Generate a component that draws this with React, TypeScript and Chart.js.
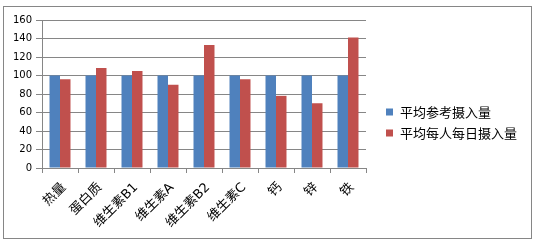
import { useEffect, useRef } from "react";
import { Chart, registerables } from "chart.js";

Chart.register(...registerables);

const categories = ["热量", "蛋白质", "维生素B1", "维生素A", "维生素B2", "维生素C", "钙", "锌", "铁"];
const referenceValues = [100, 100, 100, 100, 100, 100, 100, 100, 100];
const actualValues = [96, 108, 105, 90, 133, 96, 78, 70, 141];
const seriesLabels = ["平均参考摄入量", "平均每人每日摄入量"];
const seriesColors = ["#4F81BD", "#C0504D"];
const yMin = 0;
const yMax = 160;
const yStep = 20;

const GRID = "#868686";

const framePlugin = {
  id: "frame",
  beforeDraw(chart: any) {
    const ctx = chart.ctx;
    ctx.save();
    ctx.fillStyle = "#ffffff";
    ctx.fillRect(0, 0, chart.width, chart.height);
    ctx.strokeStyle = GRID;
    ctx.lineWidth = 1;
    ctx.strokeRect(3.5, 6.5, 528, 232);
    ctx.restore();
  },
};

const legendPlugin = {
  id: "customLegend",
  afterDraw(chart: any) {
    const ctx = chart.ctx;
    ctx.save();
    chart.data.datasets.forEach((ds: any, i: number) => {
      const y = 112 + i * 21;
      ctx.fillStyle = ds.backgroundColor;
      ctx.fillRect(386, y - 3.5, 7, 7);
      ctx.fillStyle = "#000000";
      ctx.font = '13px "Noto Sans CJK SC"';
      ctx.textBaseline = "middle";
      ctx.textAlign = "left";
      ctx.fillText(ds.label, 400, y);
    });
    ctx.restore();
  },
};

export default function App() {
  const ref = useRef<HTMLCanvasElement | null>(null);

  useEffect(() => {
    document.body.style.margin = "0";
    if (!ref.current) return;
    const chart = new Chart(ref.current, {
      type: "bar",
      data: {
        labels: categories,
        datasets: [
          {
            label: seriesLabels[0],
            data: referenceValues,
            backgroundColor: seriesColors[0],
            categoryPercentage: 0.583,
            barPercentage: 1,
          },
          {
            label: seriesLabels[1],
            data: actualValues,
            backgroundColor: seriesColors[1],
            categoryPercentage: 0.583,
            barPercentage: 1,
          },
        ],
      },
      options: {
        responsive: false,
        animation: false,
        layout: { padding: { left: 0, top: 20, right: 172, bottom: 0 } },
        plugins: {
          legend: { display: false },
          tooltip: { enabled: false },
        },
        scales: {
          x: {
            afterFit(scale: any) {
              scale.height = 75;
            },
            grid: {
              drawOnChartArea: false,
              drawTicks: true,
              tickLength: 5,
              color: GRID,
            },
            border: { display: true, color: GRID },
            ticks: {
              color: "#000000",
              minRotation: 45,
              maxRotation: 45,
              autoSkip: false,
              padding: 7,
              labelOffset: 4,
              font: { family: '"DejaVu Sans", "Noto Sans CJK SC"', size: 13 },
            },
          },
          y: {
            min: yMin,
            max: yMax,
            afterFit(scale: any) {
              scale.width = 42;
            },
            grid: { color: GRID, tickLength: 6 },
            border: { display: true, color: GRID },
            ticks: {
              stepSize: yStep,
              color: "#000000",
              padding: 4,
              font: { family: '"DejaVu Sans"', size: 10 },
            },
          },
        },
      },
      plugins: [framePlugin, legendPlugin],
    });
    return () => chart.destroy();
  }, []);

  return (
    <div style={{ position: "absolute", left: 0, top: 0, width: 538, height: 243 }}>
      <canvas ref={ref} width={538} height={243} />
    </div>
  );
}
